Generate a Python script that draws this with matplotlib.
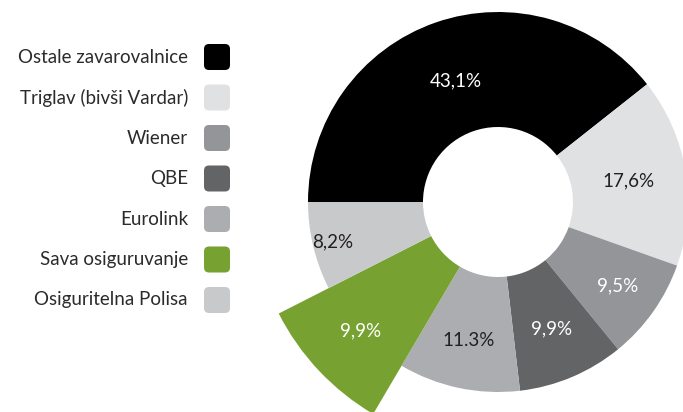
import matplotlib.pyplot as plt
from matplotlib.patches import FancyBboxPatch
import numpy as np

plt.rcParams['font.family'] = ['Lato', 'DejaVu Sans']

names = ["Ostale zavarovalnice", "Triglav (bivši Vardar)", "Wiener", "QBE",
         "Eurolink", "Sava osiguruvanje", "Osiguritelna Polisa"]
values = [43.1, 17.6, 9.5, 9.9, 11.3, 9.9, 8.2]
labels = ["43,1%", "17,6%", "9,5%", "9,9%", "11.3%", "9,9%", "8,2%"]

colors = ["#000000", "#e0e1e3", "#939598", "#636466", "#acadb0", "#77a232", "#c8c9cb"]
txt_colors = ["white", "#231f20", "white", "white", "#231f20", "white", "#231f20"]
label_dist = [128, 132, 146, 138, 142, 188, 170]

fig = plt.figure(figsize=(6.83, 4.12), dpi=100)
ax = fig.add_axes([0, 0, 1, 1])

cx, cy, R, hole = 498, 210, 190, 75
wedges, _ = ax.pie(values, colors=colors, startangle=180, counterclock=False,
                   radius=R, center=(cx, cy),
                   wedgeprops=dict(width=R - hole, linewidth=0))

# Sava slice pulled out
wedges[5].set_radius(246)
wedges[5].set_width(246 - hole)

for w, lab, c, d in zip(wedges, labels, txt_colors, label_dist):
    a = np.deg2rad((w.theta1 + w.theta2) / 2)
    ax.text(cx + d * np.cos(a), cy + d * np.sin(a), lab, color=c,
            fontsize=13.5, ha='center', va='center')

# legend
for i, (n, c) in enumerate(zip(names, colors)):
    y = 412 - (57 + i * 40.5)
    ax.add_patch(FancyBboxPatch((204, y - 13), 26, 26,
                                boxstyle="round,pad=0,rounding_size=5",
                                facecolor=c, edgecolor='none'))
    ax.text(188, y, n, ha='right', va='center', fontsize=13.5,
            color="#2b2b2b")

ax.set_xlim(0, 683)
ax.set_ylim(0, 412)
ax.set_aspect('equal')
ax.axis('off')

plt.savefig("out.png", dpi=100)
